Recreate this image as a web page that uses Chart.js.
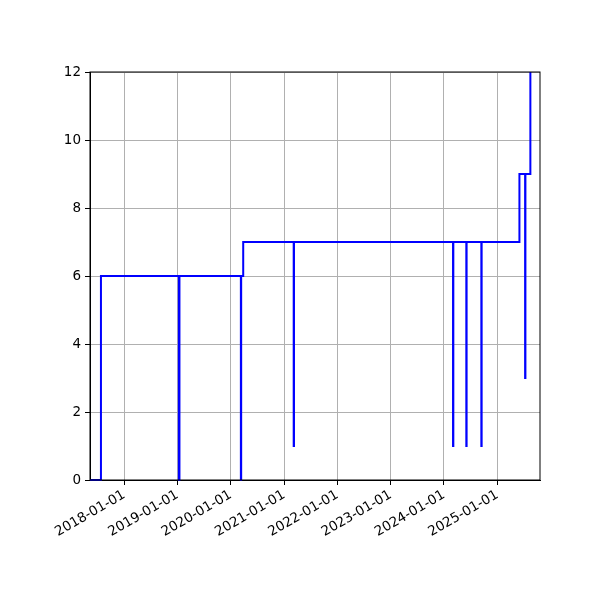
<!DOCTYPE html>
<html>
<head>
<meta charset="utf-8">
<script src="https://cdn.jsdelivr.net/npm/chart.js@4.4.1/dist/chart.umd.min.js"></script>
<style>
html,body{margin:0;padding:0;background:#fff;}
#wrap{width:600px;height:600px;}
</style>
</head>
<body>
<div id="wrap"><canvas id="c" width="600" height="600"></canvas></div>
<script>
// Step data (value holds from each date until the next date)
const dates = [
  "2017-05-11","2017-07-25",
  "2019-01-10","2019-01-14",
  "2020-03-10","2020-03-12","2020-03-26",
  "2021-03-07","2021-03-09",
  "2024-03-03","2024-03-05",
  "2024-06-02","2024-06-04",
  "2024-09-13","2024-09-15",
  "2025-06-01",
  "2025-07-10","2025-07-12",
  "2025-08-15","2025-10-20"
];
const values = [
  0,6,
  0,6,
  0,6,7,
  1,7,
  1,7,
  1,7,
  1,7,
  9,
  3,9,
  14,14
];
const tickLabels = ["2018-01-01","2019-01-01","2020-01-01","2021-01-01","2022-01-01","2023-01-01","2024-01-01","2025-01-01"];
const xMinDate = "2017-05-11";
const xMaxDate = "2025-10-20";
const yTicks = [0,2,4,6,8,10,12];

const toMs = s => Date.parse(s + "T00:00:00Z");
const points = dates.map((d,i) => ({x: toMs(d), y: values[i]}));
const tickVals = tickLabels.map(toMs);

const frame = {
  id: 'frame',
  afterDatasetsDraw(chart){
    const {ctx, chartArea:a} = chart;
    ctx.save();
    ctx.strokeStyle = '#000';
    ctx.lineWidth = 1;
    ctx.strokeRect(a.left, a.top, a.right - a.left, a.bottom - a.top);
    ctx.restore();
  }
};

const FONT = {family: "'DejaVu Sans', sans-serif", size: 13.5};

new Chart(document.getElementById('c'), {
  type: 'line',
  data: {
    datasets: [{
      data: points,
      borderColor: '#0000ff',
      borderWidth: 2,
      pointRadius: 0,
      stepped: 'before',
      fill: false,
      tension: 0,
      clip: {left: 0, top: 0, right: 0, bottom: 2}
    }]
  },
  options: {
    responsive: false,
    animation: false,
    devicePixelRatio: 1,
    layout: {padding: {left: 0, top: 72, right: 60, bottom: 0}},
    plugins: {legend: {display: false}, tooltip: {enabled: false}},
    scales: {
      x: {
        type: 'linear',
        min: toMs(xMinDate),
        max: toMs(xMaxDate),
        afterBuildTicks(scale){ scale.ticks = tickVals.map(v => ({value: v})); },
        afterFit(scale){ scale.height = 120; },
        ticks: {
          color: '#000',
          font: FONT,
          padding: 2,
          minRotation: 30,
          maxRotation: 30,
          autoSkip: false,
          callback(v){ const i = tickVals.indexOf(v); return i >= 0 ? tickLabels[i] : ''; }
        },
        grid: {color: '#b0b0b0', lineWidth: 1, tickColor: '#000', tickLength: 5, drawOnChartArea: true},
        border: {color: '#000', width: 1}
      },
      y: {
        type: 'linear',
        min: 0,
        max: 12,
        afterBuildTicks(scale){ scale.ticks = yTicks.map(v => ({value: v})); },
        afterFit(scale){ scale.width = 90; },
        ticks: {color: '#000', font: FONT, padding: 4},
        grid: {color: '#b0b0b0', lineWidth: 1, tickColor: '#000', tickLength: 5},
        border: {color: '#000', width: 1}
      }
    }
  },
  plugins: [frame]
});
</script>
</body>
</html>
